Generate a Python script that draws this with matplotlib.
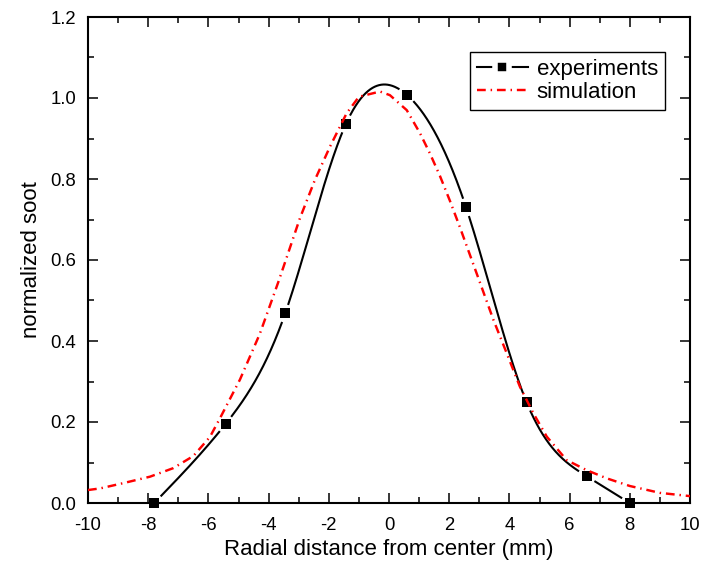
import numpy as np
import matplotlib
matplotlib.use("Agg")
import matplotlib.pyplot as plt
from matplotlib.lines import Line2D
from matplotlib.ticker import MultipleLocator

plt.rcParams['font.family'] = ['Liberation Sans', 'DejaVu Sans']

# experimental data (markers)
exp_x = [-7.8, -5.43, -3.45, -1.43, 0.59, 2.56, 4.57, 6.57, 8.0]
exp_y = [0.0, 0.195, 0.468, 0.936, 1.008, 0.730, 0.249, 0.066, 0.0]

# simulation curve
sim_x = [-10.0, -9.6, -8.83, -7.94, -7.17, -6.5, -5.95, -5.61, -4.95, -4.29,
         -3.68, -3.51, -2.96, -2.46, -1.96, -1.41, -1.0, -0.30, 0.03, 0.59,
         1.03, 1.36, 1.69, 2.03, 2.36, 2.97, 3.47, 3.91, 4.35, 4.80,
         5.24, 5.90, 6.57, 7.23, 8.0, 9.0, 10.0]
sim_y = [0.032, 0.036, 0.049, 0.065, 0.086, 0.116, 0.163, 0.210, 0.305, 0.418,
         0.545, 0.582, 0.703, 0.798, 0.880, 0.962, 1.003, 1.016, 1.007, 0.970,
         0.913, 0.863, 0.808, 0.745, 0.680, 0.555, 0.452, 0.370, 0.287, 0.221,
         0.164, 0.106, 0.081, 0.061, 0.042, 0.025, 0.017]

x_ticks = [-10, -8, -6, -4, -2, 0, 2, 4, 6, 8, 10]
y_ticks = [0.0, 0.2, 0.4, 0.6, 0.8, 1.0, 1.2]

DASHDOT = (0, (3.6, 2.0, 0.6, 2.0))


def natural_spline(x, y, xs):
    x = np.asarray(x, float); y = np.asarray(y, float)
    n = len(x)
    h = np.diff(x)
    A = np.zeros((n, n)); b = np.zeros(n)
    A[0, 0] = 1; A[-1, -1] = 1
    for i in range(1, n - 1):
        A[i, i - 1] = h[i - 1]
        A[i, i] = 2 * (h[i - 1] + h[i])
        A[i, i + 1] = h[i]
        b[i] = 3 * ((y[i + 1] - y[i]) / h[i] - (y[i] - y[i - 1]) / h[i - 1])
    c = np.linalg.solve(A, b)
    bb = np.zeros(n - 1); d = np.zeros(n - 1)
    for i in range(n - 1):
        bb[i] = (y[i + 1] - y[i]) / h[i] - h[i] * (2 * c[i] + c[i + 1]) / 3
        d[i] = (c[i + 1] - c[i]) / (3 * h[i])
    idx = np.clip(np.searchsorted(x, xs) - 1, 0, n - 2)
    dx = xs - x[idx]
    return y[idx] + bb[idx] * dx + c[idx] * dx ** 2 + d[idx] * dx ** 3


fig = plt.figure(figsize=(7.08, 5.61), dpi=100)
ax = fig.add_axes([88 / 708, 58 / 561, 602 / 708, 486 / 561])
ax.set_xlim(-10, 10)
ax.set_ylim(0, 1.2)

# spline through experimental points, with gaps around markers
xs = np.linspace(exp_x[0], exp_x[-1], 2000)
ys = natural_spline(exp_x, exp_y, xs)
pts = ax.transData.transform(np.column_stack([xs, ys]))
mk = ax.transData.transform(np.column_stack([exp_x, exp_y]))
dist = np.min(np.hypot(pts[:, None, 0] - mk[None, :, 0], pts[:, None, 1] - mk[None, :, 1]), axis=1)
ys_gap = np.where(dist < 10, np.nan, ys)
ax.plot(xs, ys_gap, color='black', lw=1.5, zorder=2)
ax.plot(exp_x, exp_y, ls='none', marker='s', ms=6.5, mfc='black', mec='black', mew=0,
        zorder=3, clip_on=False)

ax.plot(sim_x, sim_y, color='red', lw=1.75, ls=DASHDOT, zorder=4)

ax.set_xticks(x_ticks)
ax.set_yticks(y_ticks)
ax.set_xticklabels([str(t) for t in x_ticks])
ax.set_yticklabels([f"{t:.1f}" for t in y_ticks])
ax.xaxis.set_minor_locator(MultipleLocator(1))
ax.yaxis.set_minor_locator(MultipleLocator(0.1))
ax.tick_params(which='both', direction='in', top=True, right=True, width=1.1, labelsize=13.3)
ax.tick_params(which='major', length=7.5)
ax.tick_params(which='minor', length=4.5)
ax.tick_params(axis='x', which='both', pad=10)
ax.tick_params(axis='y', which='both', pad=8.6)
for s in ax.spines.values():
    s.set_linewidth(1.5)

ax.set_xlabel("Radial distance from center (mm)", fontsize=16, labelpad=4)
ax.set_ylabel("normalized soot", fontsize=16, labelpad=6)

h_exp = Line2D([], [], color='black', lw=1.5, marker='s', ms=10, mfc='black', mec='white', mew=4)
h_sim = Line2D([], [], color='red', lw=1.75, ls=DASHDOT)
leg = ax.legend([h_exp, h_sim], ["experiments", "simulation"], loc='upper right',
                bbox_to_anchor=(0.958, 0.928), fontsize=16, frameon=True, fancybox=False,
                edgecolor='black', framealpha=1, numpoints=1, handlelength=2.3,
                handletextpad=0.4, borderpad=0.3, labelspacing=0.1, borderaxespad=0)
leg.get_frame().set_linewidth(1.0)

fig.savefig("out.png", dpi=100)
